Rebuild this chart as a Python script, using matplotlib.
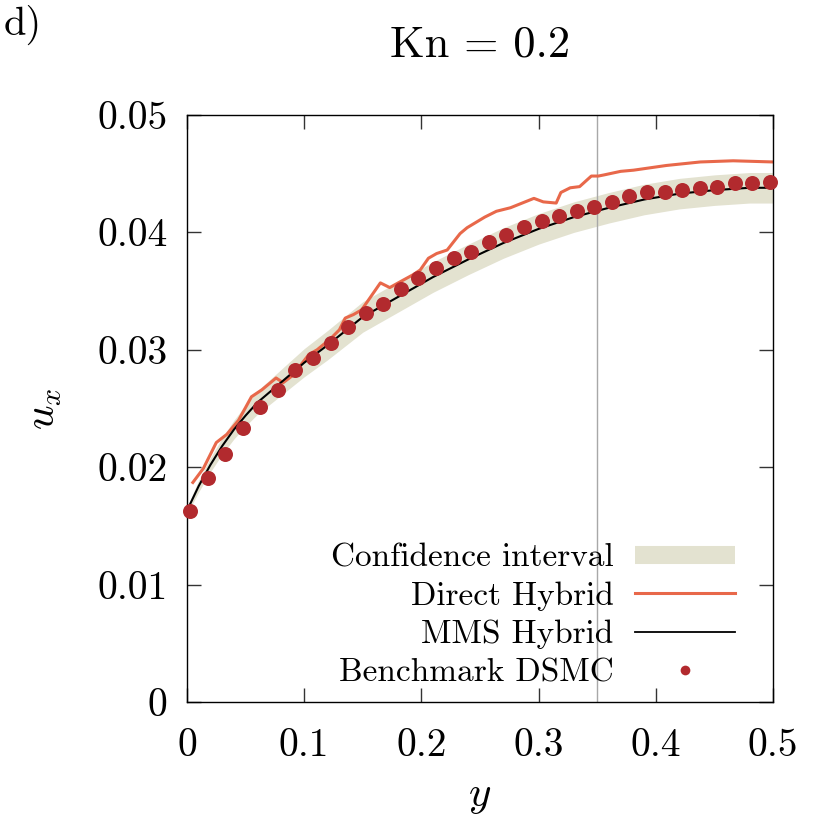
import matplotlib
matplotlib.use("Agg")
import matplotlib.pyplot as plt
from matplotlib.lines import Line2D
import numpy as np

plt.rcParams['font.family'] = ['cmr10', 'DejaVu Serif']
plt.rcParams['mathtext.fontset'] = 'cm'
plt.rcParams['axes.formatter.use_mathtext'] = True

# ---- data ----
dsmc_y_pos = [0.0025, 0.0175, 0.0325, 0.0475, 0.0625, 0.0775, 0.0925, 0.1075, 0.1225,
              0.1375, 0.1525, 0.1675, 0.1825, 0.1975, 0.2125, 0.2275, 0.2425, 0.2575,
              0.2725, 0.2875, 0.3025, 0.3175, 0.3325, 0.3475, 0.3625, 0.3775, 0.3925,
              0.4075, 0.4225, 0.4375, 0.4525, 0.4675, 0.4825, 0.4975]
dsmc_ux = [0.01627, 0.01911, 0.02112, 0.02337, 0.02516, 0.02658, 0.02828, 0.02933, 0.03061,
           0.03197, 0.03311, 0.03388, 0.03518, 0.03614, 0.03694, 0.03779, 0.03830, 0.03916,
           0.03981, 0.04049, 0.04094, 0.04142, 0.04185, 0.04213, 0.04259, 0.04307, 0.04347,
           0.04344, 0.04361, 0.04381, 0.04384, 0.04418, 0.04421, 0.04429]

mms_y = [0.0, 0.01, 0.02, 0.03, 0.04, 0.05, 0.06, 0.08, 0.10, 0.12, 0.15, 0.18, 0.21,
         0.24, 0.27, 0.30, 0.33, 0.36, 0.39, 0.42, 0.45, 0.48, 0.50]
mms_ux = [0.0163, 0.0184, 0.0202, 0.0218, 0.0232, 0.0244, 0.0255, 0.0272, 0.0289, 0.0304,
          0.0328, 0.0345, 0.0362, 0.0377, 0.0391, 0.0403, 0.0413, 0.0421, 0.0428, 0.0433,
          0.0436, 0.0438, 0.0438]
ci_half = [0.0003, 0.0005, 0.0006, 0.0007, 0.0008, 0.0009, 0.0010, 0.0011, 0.0012, 0.00125,
           0.0013, 0.0013, 0.0013, 0.0013, 0.0013, 0.0013, 0.0013, 0.0013, 0.0013, 0.0013,
           0.0013, 0.0013, 0.0013]

direct_y = [0.005, 0.014, 0.025, 0.034, 0.044, 0.055, 0.064, 0.076, 0.082, 0.090, 0.104,
            0.111, 0.122, 0.130, 0.135, 0.142, 0.149, 0.165, 0.173, 0.182, 0.193, 0.199,
            0.206, 0.213, 0.222, 0.233, 0.239, 0.254, 0.264, 0.276, 0.286, 0.296, 0.304,
            0.315, 0.319, 0.327, 0.335, 0.345, 0.351, 0.356, 0.370, 0.381, 0.409, 0.438,
            0.466, 0.500]
direct_ux = [0.0187, 0.0199, 0.0221, 0.0228, 0.0240, 0.0260, 0.0266, 0.0276, 0.0272, 0.0278,
             0.0296, 0.0300, 0.0309, 0.0317, 0.0327, 0.0330, 0.0334, 0.0357, 0.0353, 0.0358,
             0.0364, 0.0368, 0.0378, 0.0382, 0.0385, 0.0399, 0.0404, 0.0413, 0.0418, 0.0421,
             0.0425, 0.0429, 0.0426, 0.0425, 0.0434, 0.0438, 0.0439, 0.0448, 0.0448, 0.0449,
             0.0452, 0.0453, 0.0457, 0.0460, 0.0461, 0.0460]

xticks = [0, 0.1, 0.2, 0.3, 0.4, 0.5]
xtick_labels = ['0', '0.1', '0.2', '0.3', '0.4', '0.5']
yticks = [0, 0.01, 0.02, 0.03, 0.04, 0.05]
ytick_labels = ['0', '0.01', '0.02', '0.03', '0.04', '0.05']
interface_y = 0.35

c_band = '#e3e2d0'
c_direct = '#e8684a'
c_dsmc = '#b22a2e'

W, H = 830, 815
fig = plt.figure(figsize=(W / 100, H / 100), dpi=100)
ax = fig.add_axes([187 / W, (H - 702) / H, 586 / W, 587 / H])

mx = np.array(mms_y)
mu = np.array(mms_ux)
hw = np.array(ci_half)
ax.fill_between(mx, mu - hw, mu + hw, color=c_band, lw=0, zorder=1)
ax.axvline(interface_y, color='#a8a8a8', lw=1.0, zorder=1.5)
ax.plot(direct_y, direct_ux, color=c_direct, lw=2.2, zorder=2)
ax.plot(mms_y, mms_ux, color='black', lw=1.5, zorder=3)
ax.plot(dsmc_y_pos, dsmc_ux, 'o', color=c_dsmc, ms=10.8, mec='none', zorder=4, clip_on=False)

ax.set_xlim(0, 0.5)
ax.set_ylim(0, 0.05)
ax.set_xticks(xticks)
ax.set_xticklabels(xtick_labels)
ax.set_yticks(yticks)
ax.set_yticklabels(ytick_labels)
ax.tick_params(direction='in', length=10, width=1, top=True, right=True,
               labelsize=28.5, color='#333333')
ax.tick_params(axis='y', pad=14)
ax.tick_params(axis='x', pad=19)
for s in ax.spines.values():
    s.set_linewidth(1.0)

ax.set_xlabel(r'$y$', fontsize=31, labelpad=10)
ax.set_ylabel(r'$u_x$', fontsize=31, labelpad=24)

fig.text(480 / W, 1 - 45 / H, 'Kn = 0.2', fontsize=32, ha='center', va='center')
fig.text(4 / W, 1 - 25 / H, 'd)', fontsize=29, ha='left', va='center')

handles = [
    Line2D([], [], color=c_band, lw=13, solid_capstyle='butt'),
    Line2D([], [], color=c_direct, lw=2.2),
    Line2D([], [], color='black', lw=1.3),
    Line2D([], [], color=c_dsmc, marker='o', ls='none', ms=7, mec='none'),
]
labels = ['Confidence interval', 'Direct Hybrid', 'MMS Hybrid', 'Benchmark DSMC']
ax.legend(handles, labels, loc='lower right', bbox_to_anchor=((735 - 187) / 586, 0.025),
          frameon=False, markerfirst=False, fontsize=24, handlelength=3.0,
          handletextpad=0.65, labelspacing=0.26, borderpad=0, borderaxespad=0)

fig.savefig('out.png', dpi=100)
